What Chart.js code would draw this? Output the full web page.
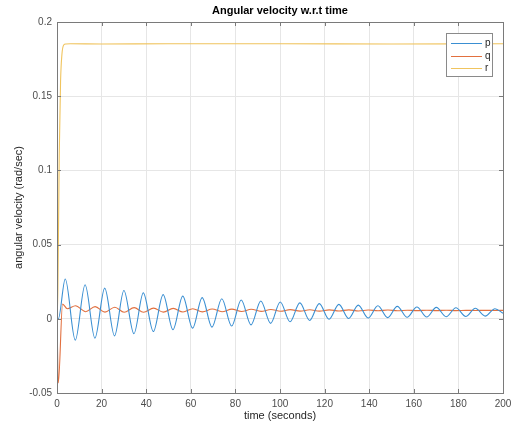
<!DOCTYPE html>
<html>
<head>
  <title>Angular velocity w.r.t time</title>
  <style>
    body { margin: 0; background: #fff; }
    #wrap { width: 518px; height: 430px; }
  </style>
  <script src="https://cdn.jsdelivr.net/npm/chart.js@4.4.1/dist/chart.umd.min.js"></script>
</head>
<body>
  <div id="wrap"><canvas id="chart" width="518" height="430"></canvas></div>
  <script>
    // values (extremes of the oscillations)
    const pTime = [0, 0.6, 3.7, 8.2, 12.6, 17.0, 21.4, 25.8, 30.0, 34.5, 38.7, 43.2, 47.6, 52.0, 56.4, 60.8,
      65.1, 69.5, 73.9, 78.3, 82.6, 87.0, 91.4, 95.8, 100.1, 104.5, 108.9, 113.3, 117.6, 122.0, 126.4, 130.8,
      135.1, 139.5, 143.9, 148.3, 152.6, 157.0, 161.4, 165.8, 170.1, 174.5, 178.9, 183.3, 187.6, 192.0, 196.4, 200];
    const pValues = [0, 0, 0.0268, -0.0144, 0.0229, -0.0130, 0.0207, -0.0115, 0.0191, -0.0100, 0.0175, -0.0086,
      0.0163, -0.0074, 0.0153, -0.0063, 0.0143, -0.0056, 0.0135, -0.0049, 0.0127, -0.0041, 0.0120, -0.0031,
      0.0113, -0.0020, 0.0107, -0.0011, 0.0102, -0.0003, 0.0097, 0.0002, 0.0092, 0.0005, 0.0088, 0.0008,
      0.0084, 0.0010, 0.0080, 0.0012, 0.0077, 0.0014, 0.0074, 0.0016, 0.0071, 0.0018, 0.0068, 0.0038];

    const qTime = [0, 0.6, 2.5, 4.6, 8.3, 12.8, 17.1, 21.5, 25.9, 30.1, 34.6, 38.8, 43.3, 47.7, 52.1, 56.5,
      60.9, 65.2, 69.6, 74.0, 78.4, 82.7, 87.1, 91.5, 95.9, 100.2, 104.6, 109.0, 113.4, 117.7, 122.1, 126.5,
      130.9, 135.2, 139.6, 144.0, 148.4, 152.7, 157.1, 161.5, 165.9, 170.2, 174.6, 179.0, 183.4, 187.7, 192.1, 196.5, 200];
    const qValues = [0, -0.0433, 0.0099, 0.0068, 0.0088, 0.0048, 0.0082, 0.0045, 0.0078, 0.0044, 0.0075, 0.0044,
      0.0072, 0.0045, 0.0070, 0.0046, 0.0068, 0.0047, 0.0066, 0.0048, 0.0065, 0.0049, 0.0064, 0.0050,
      0.0063, 0.0051, 0.0062, 0.0052, 0.0061, 0.0052, 0.0060, 0.0053, 0.0060, 0.0053, 0.0059, 0.0054,
      0.0059, 0.0054, 0.0058, 0.0055, 0.0058, 0.0055, 0.0058, 0.0055, 0.0057, 0.0056, 0.0057, 0.0056, 0.0057];

    const rTime = [0, 0.4, 1.0, 1.6, 2.2, 3.0, 4.0, 6.0, 20, 50, 100, 150, 200];
    const rValues = [0, 0.02, 0.11, 0.160, 0.178, 0.1845, 0.1852, 0.1853, 0.1852, 0.1853, 0.1853, 0.1852, 0.1853];

    const seriesNames = ["p", "q", "r"];
    const seriesColors = ["#3a8fd2", "#e2703f", "#f0c45e"];

    const xTicks = [0, 20, 40, 60, 80, 100, 120, 140, 160, 180, 200];
    const yTicks = [-0.05, 0, 0.05, 0.1, 0.15, 0.2];

    const toPoints = (ts, vs) => ts.map((t, i) => ({ x: t, y: vs[i] }));
    const seriesData = [toPoints(pTime, pValues), toPoints(qTime, qValues), toPoints(rTime, rValues)];

    const FONT = "Arial, 'Liberation Sans', Helvetica, sans-serif";

    // MATLAB-style box: inward ticks on all sides, title, legend in the corner
    const matlabBox = {
      id: "matlabBox",
      afterDraw(chart) {
        const { ctx, chartArea: a, scales } = chart;
        ctx.save();
        ctx.strokeStyle = "#7a7a7a";
        ctx.lineWidth = 1;
        ctx.beginPath();
        xTicks.forEach(v => {
          const x = Math.round(scales.x.getPixelForValue(v)) + 0.5;
          ctx.moveTo(x, a.bottom); ctx.lineTo(x, a.bottom - 4);
          ctx.moveTo(x, a.top); ctx.lineTo(x, a.top + 4);
        });
        yTicks.forEach(v => {
          const y = Math.round(scales.y.getPixelForValue(v)) + 0.5;
          ctx.moveTo(a.left, y); ctx.lineTo(a.left + 4, y);
          ctx.moveTo(a.right, y); ctx.lineTo(a.right - 4, y);
        });
        ctx.stroke();
        ctx.strokeRect(Math.round(a.left) + 0.5, Math.round(a.top) + 0.5,
          Math.round(a.right - a.left), Math.round(a.bottom - a.top));

        // title
        ctx.fillStyle = "#000";
        ctx.font = "bold 11px " + FONT;
        ctx.textAlign = "center";
        ctx.textBaseline = "middle";
        ctx.fillText("Angular velocity w.r.t time", (a.left + a.right) / 2, 11);

        // legend
        const lx = 446, ly = 33, lw = 46, lh = 43;
        ctx.fillStyle = "#fff";
        ctx.fillRect(lx, ly, lw, lh);
        ctx.strokeStyle = "#8a8a8a";
        ctx.strokeRect(lx + 0.5, ly + 0.5, lw, lh);
        ctx.font = "10px " + FONT;
        ctx.textAlign = "left";
        chart.data.datasets.forEach((ds, i) => {
          const y = ly + 10 + i * 12.5;
          ctx.strokeStyle = ds.borderColor;
          ctx.beginPath();
          ctx.moveTo(lx + 5, Math.round(y) + 0.5);
          ctx.lineTo(lx + 36, Math.round(y) + 0.5);
          ctx.stroke();
          ctx.fillStyle = "#262626";
          ctx.fillText(ds.label, lx + 39, y + 0.5);
        });
        ctx.restore();
      }
    };

    new Chart(document.getElementById("chart"), {
      type: "line",
      data: {
        datasets: seriesNames.map((name, i) => ({
          label: name,
          data: seriesData[i],
          borderColor: seriesColors[i],
          backgroundColor: seriesColors[i],
          borderWidth: 1.1,
          pointRadius: 0,
          cubicInterpolationMode: "monotone",
          fill: false
        }))
      },
      options: {
        responsive: false,
        animation: false,
        events: [],
        layout: { padding: { left: 0, right: 15, top: 22, bottom: 0 } },
        plugins: { legend: { display: false }, tooltip: { enabled: false }, title: { display: false } },
        scales: {
          x: {
            type: "linear",
            min: 0, max: 200,
            afterBuildTicks: s => { s.ticks = xTicks.map(v => ({ value: v })); },
            afterFit: s => { s.height = 37; },
            grid: { color: "#e6e6e6", drawTicks: false },
            border: { display: false },
            ticks: { color: "#4d4d4d", font: { family: FONT, size: 10 }, padding: 5, maxRotation: 0 },
            title: { display: true, text: "time (seconds)", color: "#262626", font: { family: FONT, size: 11 }, padding: { top: 0, bottom: 7 } }
          },
          y: {
            min: -0.05, max: 0.2,
            afterBuildTicks: s => { s.ticks = yTicks.map(v => ({ value: v })); },
            afterFit: s => { s.width = 57; },
            grid: { color: "#e6e6e6", drawTicks: false },
            border: { display: false },
            ticks: {
              color: "#4d4d4d", font: { family: FONT, size: 10 }, padding: 5,
              callback: v => String(Number(v.toFixed(2)))
            },
            title: { display: true, text: "angular velocity (rad/sec)", color: "#262626", font: { family: FONT, size: 11 }, padding: { top: 12, bottom: 0 } }
          }
        }
      },
      plugins: [matlabBox]
    });
  </script>
</body>
</html>
